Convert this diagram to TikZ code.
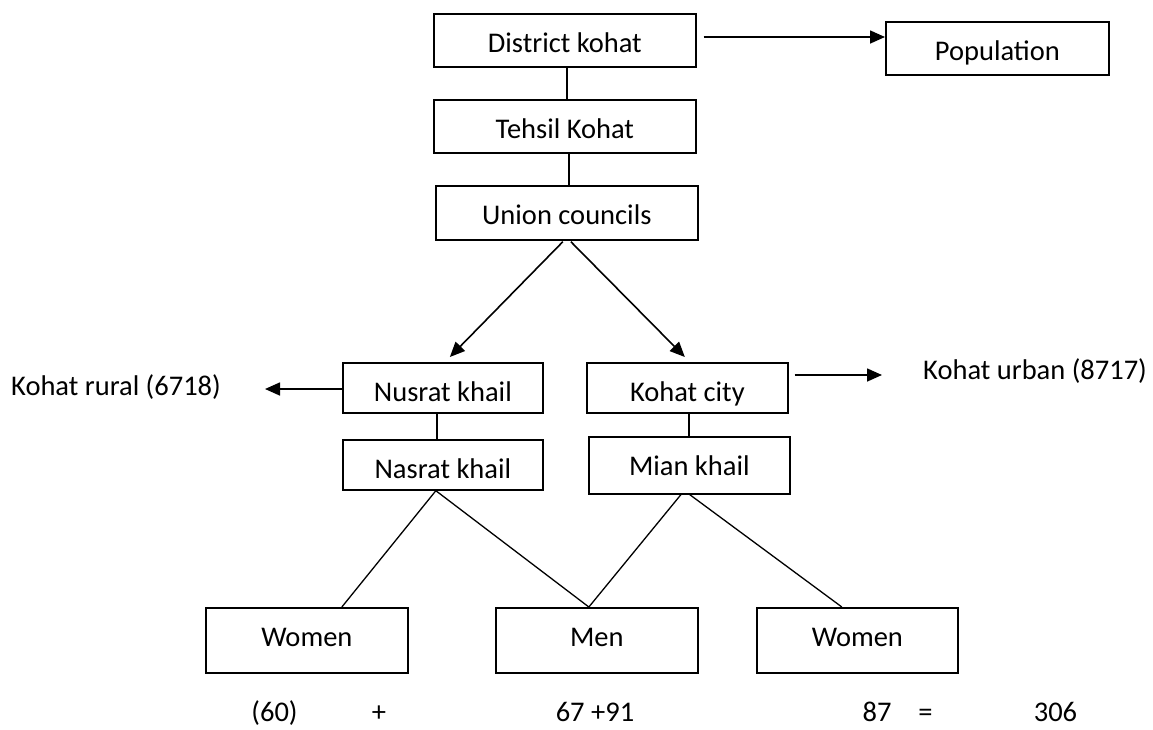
\documentclass[tikz,border=0pt]{standalone}
\usepackage{fontspec}
\setmainfont{Carlito}
\usetikzlibrary{arrows.meta}
\newcommand\dgfont{\fontsize{28.5}{34}\selectfont}
\tikzset{
  bx/.style 2 args={draw, line width=1.7pt, inner sep=0pt, anchor=north west,
    minimum width=#1, minimum height=0pt, text height=38.5pt, text depth=#2, font=\dgfont},
  lbl/.style={inner sep=0pt, font=\dgfont},
  ln/.style={line width=1.3pt},
  arr/.style={line width=1.6pt, -{Triangle[length=15pt,width=13pt]}}
}
\begin{document}
\begin{tikzpicture}[x=1pt,y=-1pt]
\useasboundingbox (0,0) rectangle (1153,729);
% boxes
\node[bx={262pt}{14.5pt}] (dist) at (433,13) {District kohat};
\node[bx={223pt}{14.5pt}] (pop) at (885,21) {Population};
\node[bx={262pt}{14.5pt}] (teh) at (433,99) {Tehsil Kohat};
\node[bx={262pt}{15.5pt}] (union) at (435,185) {Union councils};
\node[bx={200pt}{11.5pt}] (nusrat) at (342,362) {Nusrat khail};
\node[bx={201pt}{11.5pt}] (city) at (586,362) {Kohat city};
\node[bx={200pt}{11.5pt}] (nasrat) at (342,439) {Nasrat khail};
\node[bx={201pt}{18.5pt}] (mian) at (588,436) {Mian khail};
\node[bx={202pt}{26.5pt}] (w1) at (205,607) {Women};
\node[bx={202pt}{26.5pt}] (men) at (495,607) {Men};
\node[bx={201pt}{26.5pt}] (w2) at (756,607) {Women};
% side labels
\node[lbl, anchor=west] (rural) at (11,387) {Kohat rural (6718)};
\node[lbl, anchor=west] (urban) at (923,371) {Kohat urban (8717)};
% bottom sums
\node[lbl, anchor=base] (s60) at (274.5,721) {(60)};
\node[lbl, anchor=base] (splus) at (379,721) {+};
\node[lbl, anchor=base] (smen) at (595,721) {67 +91};
\node[lbl, anchor=base] (s87) at (877,721) {87};
\node[lbl, anchor=base] (seq) at (925.5,721) {=};
\node[lbl, anchor=base] (stot) at (1055.5,721) {306};
% arrows
\coordinate (popin) at (885,37);
\draw[arr, shorten <=7pt] (dist.east |- popin) -- (popin -| pop.west);
\draw[arr] ([xshift=-4pt,yshift=-1pt]union.south) -- ([xshift=7pt,yshift=5pt]nusrat.north);
\draw[arr] ([xshift=4pt,yshift=-1pt]union.south) -- ([xshift=-2.5pt,yshift=5pt]city.north);
\coordinate (rt) at (265,389);
\draw[arr] (nusrat.west |- rt) -- (rt);
\coordinate (ut) at (882,375);
\draw[arr, shorten <=6pt] (city.east |- ut) -- (ut);
% plain lines
\draw[ln] ([xshift=2pt]dist.south) -- ([xshift=2pt]teh.north);
\draw[ln] ([xshift=4pt]teh.south) -- ([xshift=2pt]union.north);
\draw[ln] ([xshift=-6pt]nusrat.south) -- ([xshift=-6pt]nasrat.north);
\draw[ln] ([xshift=1.5pt]city.south) -- ([xshift=-0.5pt]mian.north);
\draw[ln] ([xshift=-7pt]nasrat.south) -- ([xshift=35pt]w1.north);
\draw[ln] ([xshift=-7pt]nasrat.south) -- ([xshift=-8pt]men.north);
\draw[ln] ([xshift=-8.5pt]mian.south) -- ([xshift=-8pt]men.north);
\draw[ln] ([xshift=0.5pt]mian.south) -- ([xshift=-15.5pt]w2.north);
\end{tikzpicture}
\end{document}
